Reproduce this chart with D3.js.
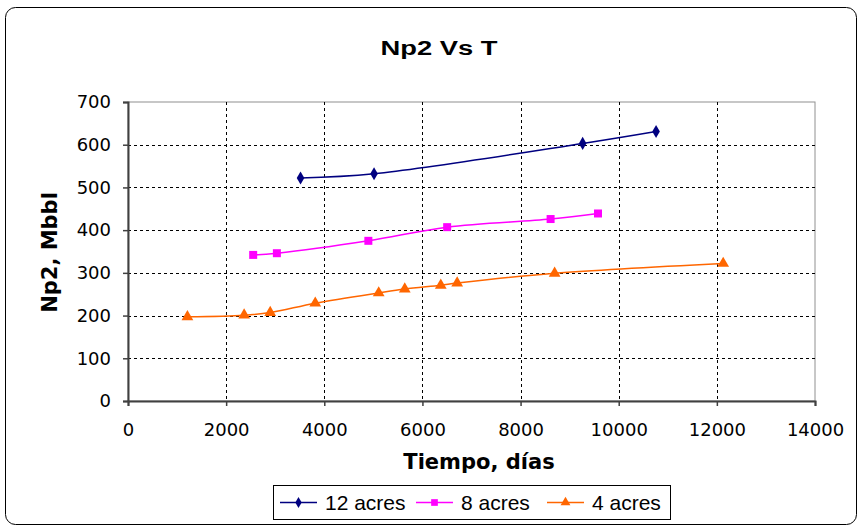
<!DOCTYPE html>
<html>
<head>
<meta charset="utf-8">
<script src="https://cdn.jsdelivr.net/npm/d3@7"></script>
<style>
  html, body { margin: 0; padding: 0; background: #fff; }
  svg { display: block; font-family: "Liberation Sans", Arial, sans-serif; }
</style>
</head>
<body>
<svg id="chart" width="859" height="529"></svg>
<script>
// Cumulative production Np2 (Mbbl) vs time (days) for three well spacings
const acres12T = [3516, 5014, 9265, 10761];
const acres12Np = [522, 532, 603, 631];

const acres8T = [2551, 3034, 4898, 6504, 8612, 9578];
const acres8Np = [342, 346, 375, 407, 426, 439];

const acres4T = [1211, 2367, 2898, 3816, 5109, 5640, 6374, 6708, 8694, 12129];
const acres4Np = [197, 201, 207, 229, 253, 262, 271, 276, 299, 322];

const xTicks = [0, 2000, 4000, 6000, 8000, 10000, 12000, 14000];
const yTicks = [0, 100, 200, 300, 400, 500, 600, 700];

const seriesNames = ["12 acres", "8 acres", "4 acres"];
const seriesColors = ["#000080", "#FF00FF", "#FF6600"];
const seriesShapes = [d3.symbolDiamond, d3.symbolSquare, d3.symbolTriangle];

const series = [
  { name: seriesNames[0], t: acres12T, np: acres12Np, color: seriesColors[0], shape: seriesShapes[0], size: 50 },
  { name: seriesNames[1], t: acres8T, np: acres8Np, color: seriesColors[1], shape: seriesShapes[1], size: 64 },
  { name: seriesNames[2], t: acres4T, np: acres4Np, color: seriesColors[2], shape: seriesShapes[2], size: 60 }
];

const svg = d3.select("#chart");
const tickFont = "'DejaVu Sans', Verdana, sans-serif";

// Outer chart frame with rounded corners
svg.append("rect")
  .attr("x", 5.5).attr("y", 7.5)
  .attr("width", 851).attr("height", 517)
  .attr("rx", 10).attr("ry", 10)
  .attr("fill", "#fff")
  .attr("stroke", "#000").attr("stroke-width", 1);

const plot = { left: 128, top: 102, right: 815, bottom: 401 };

const x = d3.scaleLinear().domain([0, 14000]).range([plot.left, plot.right]);
const y = d3.scaleLinear().domain([0, 700]).range([plot.bottom, plot.top]);

// Plot area border (top / right)
svg.append("rect")
  .attr("x", plot.left).attr("y", plot.top)
  .attr("width", plot.right - plot.left).attr("height", plot.bottom - plot.top)
  .attr("fill", "#fff").attr("stroke", "#909090").attr("stroke-width", 1);

// Dashed grid
const grid = svg.append("g").attr("stroke", "#000").attr("stroke-width", 1)
  .attr("stroke-dasharray", "3,3");
grid.selectAll("line.v").data(xTicks.filter(d => d > 0 && d < 14000)).join("line")
  .attr("class", "v")
  .attr("x1", d => Math.round(x(d)) + 0.5).attr("x2", d => Math.round(x(d)) + 0.5)
  .attr("y1", plot.top).attr("y2", plot.bottom);
grid.selectAll("line.h").data(yTicks.filter(d => d > 0 && d < 700)).join("line")
  .attr("class", "h")
  .attr("y1", d => Math.round(y(d)) + 0.5).attr("y2", d => Math.round(y(d)) + 0.5)
  .attr("x1", plot.left).attr("x2", plot.right);

// Axes
const xAxis = d3.axisBottom(x).tickValues(xTicks).tickSize(5).tickPadding(17).tickFormat(d3.format("d"));
const yAxis = d3.axisLeft(y).tickValues(yTicks).tickSize(5).tickPadding(12).tickFormat(d3.format("d"));

const gx = svg.append("g").attr("transform", `translate(0,${plot.bottom})`).call(xAxis);
const gy = svg.append("g").attr("transform", `translate(${plot.left},0)`).call(yAxis);
[gx, gy].forEach(g => {
  g.select(".domain").attr("stroke", "#404040").attr("stroke-width", 2);
  g.selectAll(".tick line").attr("stroke", "#404040").attr("stroke-width", 1.5);
  g.selectAll(".tick text").attr("fill", "#000")
    .style("font-family", tickFont).style("font-size", "18px");
});

// Series lines and markers
const line = d3.line().curve(d3.curveCatmullRom.alpha(0.5))
  .x(d => x(d[0])).y(d => y(d[1]));

series.forEach(s => {
  const pts = s.t.map((t, i) => [t, s.np[i]]);
  svg.append("path").datum(pts)
    .attr("d", line)
    .attr("fill", "none").attr("stroke", s.color).attr("stroke-width", 1.5);
  svg.append("g").selectAll("path").data(pts).join("path")
    .attr("transform", d => `translate(${x(d[0])},${y(d[1])})`)
    .attr("d", d3.symbol().type(s.shape).size(s.size))
    .attr("fill", s.color);
});

// Title and axis titles
svg.append("text")
  .attr("x", 439).attr("y", 55)
  .attr("text-anchor", "middle")
  .attr("textLength", 117).attr("lengthAdjust", "spacingAndGlyphs")
  .style("font-size", "20px").style("font-weight", "bold")
  .text("Np2 Vs T");

svg.append("text")
  .attr("transform", `translate(57,${(plot.top + plot.bottom) / 2 + 1}) rotate(-90)`)
  .attr("text-anchor", "middle")
  .style("font-family", tickFont)
  .style("font-size", "21px").style("font-weight", "bold")
  .text("Np2, Mbbl");

svg.append("text")
  .attr("x", 479).attr("y", 469)
  .attr("text-anchor", "middle")
  .style("font-family", tickFont)
  .style("font-size", "21px").style("font-weight", "bold")
  .text("Tiempo, días");

// Legend
const legend = svg.append("g");
legend.append("rect")
  .attr("x", 273.5).attr("y", 485.5).attr("width", 397).attr("height", 34)
  .attr("fill", "#fff").attr("stroke", "#000").attr("stroke-width", 1);

const legendX = [280, 416, 547];
series.forEach((s, i) => {
  const g = legend.append("g").attr("transform", `translate(${legendX[i]},502.5)`);
  g.append("line").attr("x1", 0).attr("x2", 37).attr("y1", 0).attr("y2", 0)
    .attr("stroke", s.color).attr("stroke-width", 1.5);
  g.append("path").attr("transform", "translate(18.5,0)")
    .attr("d", d3.symbol().type(s.shape).size(s.size * 0.7))
    .attr("fill", s.color);
  g.append("text").attr("x", 45).attr("y", 7.5)
    .style("font-size", "21px")
    .text(s.name);
});
</script>
</body>
</html>
